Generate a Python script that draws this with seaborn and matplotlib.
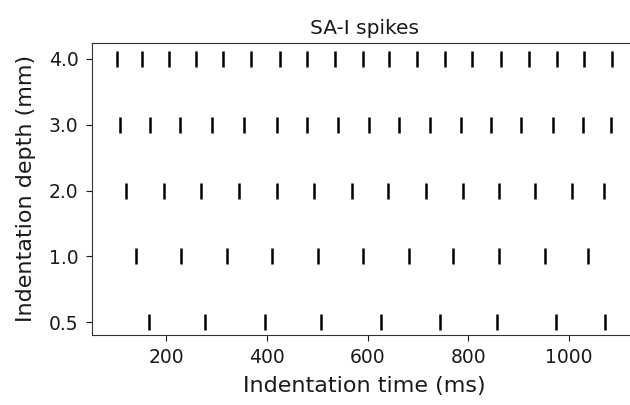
import matplotlib
matplotlib.use("Agg")
import matplotlib.pyplot as plt
import pandas as pd
import seaborn as sns

depths = ["0.5", "1.0", "2.0", "3.0", "4.0"]
spikes_05 = [165, 277, 396, 507, 626, 743, 857, 974, 1071]
spikes_10 = [139, 229, 321, 410, 501, 591, 682, 770, 860, 951, 1037]
spikes_20 = [121, 195, 269, 344, 420, 493, 568, 640, 716, 789, 860, 933, 1006, 1069]
spikes_30 = [108, 168, 228, 290, 355, 419, 479, 540, 602, 662, 723, 785, 845, 905,
             967, 1028, 1084]
spikes_40 = [102, 152, 205, 259, 312, 368, 425, 480, 536, 590, 643, 698, 753, 808,
             864, 920, 975, 1030, 1085]


def main():
    rows = []
    for d, times in zip(depths, [spikes_05, spikes_10, spikes_20, spikes_30, spikes_40]):
        for t in times:
            rows.append({"time": t, "depth": d})
    df = pd.DataFrame(rows)

    sns.set_style("ticks")
    plt.rcParams["font.family"] = ["DejaVu Sans"]
    plt.rcParams["text.color"] = "#1a1a1a"
    plt.rcParams["axes.labelcolor"] = "#1a1a1a"
    plt.rcParams["xtick.color"] = "#1a1a1a"
    plt.rcParams["ytick.color"] = "#1a1a1a"
    plt.rcParams["axes.edgecolor"] = "#333333"

    fig = plt.figure(figsize=(6.3, 4.05), dpi=100)
    # the reference is cropped on the right, so the axes run just past the edge
    ax = fig.add_axes([0.1456, 0.1728, 0.865, 0.7218])

    sns.scatterplot(data=df, x="time", y="depth", marker="|", s=120,
                    linewidth=1.8, color="black", ax=ax)

    ax.set_xlim(52, 1134)
    ax.set_ylim(-0.19, 4.24)
    ax.set_xticks([200, 400, 600, 800, 1000])
    ax.tick_params(labelsize=13.5, length=4.5, pad=5)
    ax.set_xlabel("Indentation time (ms)", fontsize=16, labelpad=6)
    ax.set_ylabel("Indentation depth (mm)", fontsize=16, labelpad=9)
    ax.set_title("SA-I spikes", fontsize=14.5)

    fig.savefig("out.png", dpi=100)


if __name__ == "__main__":
    main()
